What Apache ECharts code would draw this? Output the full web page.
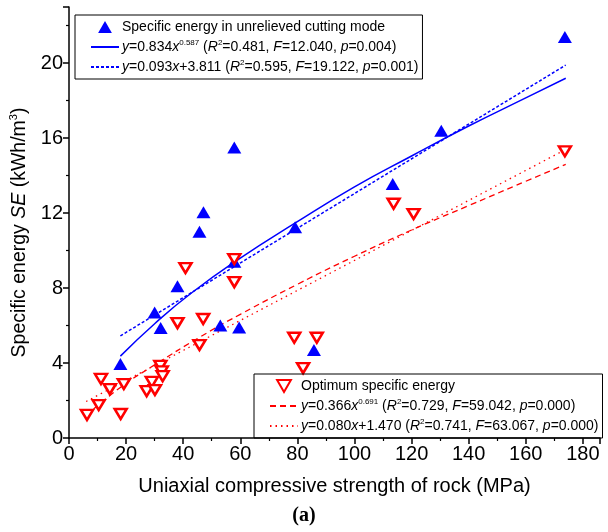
<!DOCTYPE html>
<html>
<head>
<meta charset="utf-8">
<script src="https://cdn.jsdelivr.net/npm/echarts@6/dist/echarts.min.js"></script>
<style>
  html, body { margin: 0; padding: 0; background: #fff; }
  #chart { width: 608px; height: 532px; }
</style>
</head>
<body>
<div id="chart"></div>
<script>
// unrelieved cutting mode (blue triangles)
const ucsUnrelieved = [18, 30, 32.1, 38, 45.7, 47.1, 53, 57.9, 57.9, 59.6, 79.2, 85.8, 113.4, 130.4, 173.7];
const seUnrelieved = [3.95, 6.7, 5.87, 8.1, 11.0, 12.05, 6.0, 15.5, 9.4, 5.9, 11.25, 4.7, 13.55, 16.4, 21.4];

// optimum specific energy (red hollow down triangles)
const ucsOptimum = [6.3, 10.4, 11.2, 14.3, 18.1, 19.2, 27.2, 29, 30.1, 32, 32.5, 32.8, 38, 40.8, 45.7, 47, 57.9, 57.9, 78.9, 82, 86.8, 113.7, 120.7, 173.7];
const seOptimum = [1.23, 1.76, 3.15, 2.61, 1.28, 2.88, 2.5, 2.99, 2.56, 3.85, 3.55, 3.3, 6.13, 9.07, 4.96, 6.35, 9.55, 8.32, 5.35, 3.73, 5.35, 12.5, 11.95, 15.3];

// fitted curves
const powBlueX = [18, 30, 43, 60, 79, 100, 120, 140, 160, 174];
const powBlueY = [4.37, 6.1, 7.75, 9.6, 11.45, 13.4, 15.05, 16.65, 18.15, 19.2];
const linBlueX = [18, 174];
const linBlueY = [5.45, 19.9];
const powRedX = [6, 18, 30, 46, 60, 80, 100, 120, 140, 160, 174];
const powRedY = [1.2, 2.7, 3.9, 5.4, 6.6, 8.2, 9.7, 11.1, 12.4, 13.7, 14.6];
const linRedX = [6, 174];
const linRedY = [1.95, 15.4];

const xTicks = [0, 20, 40, 60, 80, 100, 120, 140, 160, 180];
const yTicks = [0, 4, 8, 12, 16, 20];

const FONT = 'Liberation Sans, Arial, sans-serif';
const BLUE = '#0000ff';
const RED = '#ff0000';
const upTri = 'path://M5,0 L10,8.7 L0,8.7 Z';
const downTri = 'path://M0,0 L10,0 L5,8.7 Z';

const pairs = (xs, ys) => xs.map((x, i) => [x, ys[i]]);

const legendText = {
  'unrelieved': '{n|Specific energy in unrelieved cutting mode}',
  'powBlue': '{i|y}{n|=0.834}{i|x}{s|0.587}{n| (}{i|R}{s|2}{n|=0.481, }{i|F}{n|=12.040, }{i|p}{n|=0.004)}',
  'linBlue': '{i|y}{n|=0.093}{i|x}{n|+3.811 (}{i|R}{s|2}{n|=0.595, }{i|F}{n|=19.122, }{i|p}{n|=0.001)}',
  'optimum': '{n|Optimum specific energy}',
  'powRed': '{i|y}{n|=0.366}{i|x}{s|0.691}{n| (}{i|R}{s|2}{n|=0.729, }{i|F}{n|=59.042, }{i|p}{n|=0.000)}',
  'linRed': '{i|y}{n|=0.080}{i|x}{n|+1.470 (}{i|R}{s|2}{n|=0.741, }{i|F}{n|=63.067, }{i|p}{n|=0.000)}'
};

const richLegend = {
  n: { fontFamily: FONT, fontSize: 14, color: '#000', lineHeight: 16 },
  i: { fontFamily: FONT, fontSize: 14, color: '#000', fontStyle: 'italic', lineHeight: 16 },
  s: { fontFamily: FONT, fontSize: 8, color: '#000', verticalAlign: 'top', lineHeight: 8 }
};

// line entries: hide the marker ECharts puts in the middle of a line icon
const lineItem = name => ({ name: name, itemStyle: { color: 'rgba(0,0,0,0)', borderWidth: 0 } });

function legendBox(items, left, top) {
  return {
    data: items,
    orient: 'vertical',
    left: left,
    top: top,
    itemWidth: 28,
    itemHeight: 12,
    itemGap: 5,
    padding: [5, 4, 5, 15],
    borderColor: '#000',
    borderWidth: 1,
    selectedMode: false,
    formatter: name => legendText[name],
    textStyle: { rich: richLegend, padding: [0, 0, 0, -2] }
  };
}

const chart = echarts.init(document.getElementById('chart'));
chart.setOption({
  animation: false,
  backgroundColor: '#fff',
  title: {
    text: '(a)',
    left: 'center',
    top: 501,
    textStyle: { fontFamily: 'Liberation Serif, Times New Roman, serif', fontWeight: 'bold', fontSize: 20, color: '#000' }
  },
  grid: { left: 67, right: 8, top: 7, bottom: 94 },
  legend: [
    legendBox([{ name: 'unrelieved', icon: upTri }, lineItem('powBlue'), lineItem('linBlue')], 75, 15),
    legendBox([{ name: 'optimum', icon: downTri }, lineItem('powRed'), lineItem('linRed')], 254, 374)
  ],
  xAxis: {
    type: 'value',
    min: 0,
    max: 186,
    interval: 20,
    name: 'Uniaxial compressive strength of rock (MPa)',
    nameLocation: 'middle',
    nameGap: 38,
    nameTextStyle: { fontFamily: FONT, fontSize: 20, color: '#000' },
    axisLine: { lineStyle: { color: '#000', width: 1.5 } },
    axisTick: { length: 6, lineStyle: { color: '#000', width: 1.5 } },
    minorTick: { show: true, splitNumber: 2, length: 3, lineStyle: { color: '#000', width: 1.2 } },
    axisLabel: {
      fontFamily: FONT, fontSize: 20, color: '#000', margin: 6,
      formatter: v => xTicks.includes(v) ? String(v) : ''
    },
    splitLine: { show: false }
  },
  yAxis: {
    type: 'value',
    min: 0,
    max: 23,
    interval: 4,
    name: '{a|Specific energy }{i|SE}{a| (kWh/m}{s|3}{a|)}',
    nameLocation: 'middle',
    nameGap: 38,
    nameTextStyle: {
      padding: [0, 20, 0, 0],
      rich: {
        a: { fontFamily: FONT, fontSize: 19.5, color: '#000', lineHeight: 23 },
        i: { fontFamily: FONT, fontSize: 19.5, color: '#000', fontStyle: 'italic', lineHeight: 23 },
        s: { fontFamily: FONT, fontSize: 11, color: '#000', verticalAlign: 'top', lineHeight: 11 }
      }
    },
    axisLine: { lineStyle: { color: '#000', width: 1.5 } },
    axisTick: { length: 6, lineStyle: { color: '#000', width: 1.5 } },
    minorTick: { show: true, splitNumber: 2, length: 3, lineStyle: { color: '#000', width: 1.2 } },
    axisLabel: {
      fontFamily: FONT, fontSize: 20, color: '#000', margin: 6,
      formatter: v => yTicks.includes(v) ? String(v) : ''
    },
    splitLine: { show: false }
  },
  series: [
    {
      name: 'powBlue', type: 'line', data: pairs(powBlueX, powBlueY),
      symbol: 'none', smooth: true, z: 2,
      lineStyle: { color: BLUE, width: 1.5 }, itemStyle: { color: BLUE }
    },
    {
      name: 'linBlue', type: 'line', data: pairs(linBlueX, linBlueY),
      symbol: 'none', z: 2,
      lineStyle: { color: BLUE, width: 1.5, type: [3, 2] }, itemStyle: { color: BLUE }
    },
    {
      name: 'powRed', type: 'line', data: pairs(powRedX, powRedY),
      symbol: 'none', smooth: true, z: 2,
      lineStyle: { color: RED, width: 1.3, type: [6, 4] }, itemStyle: { color: RED }
    },
    {
      name: 'linRed', type: 'line', data: pairs(linRedX, linRedY),
      symbol: 'none', z: 2,
      lineStyle: { color: RED, width: 1.3, type: [1.5, 4] }, itemStyle: { color: RED }
    },
    {
      name: 'unrelieved', type: 'scatter', data: pairs(ucsUnrelieved, seUnrelieved),
      symbol: 'triangle', symbolSize: [14, 12], z: 3,
      itemStyle: { color: BLUE, opacity: 1 }
    },
    {
      name: 'optimum', type: 'scatter', data: pairs(ucsOptimum, seOptimum),
      symbol: downTri, symbolSize: [12, 10], z: 3,
      itemStyle: { color: '#fff', borderColor: RED, borderWidth: 2.5, opacity: 1 }
    }
  ]
});
</script>
</body>
</html>
